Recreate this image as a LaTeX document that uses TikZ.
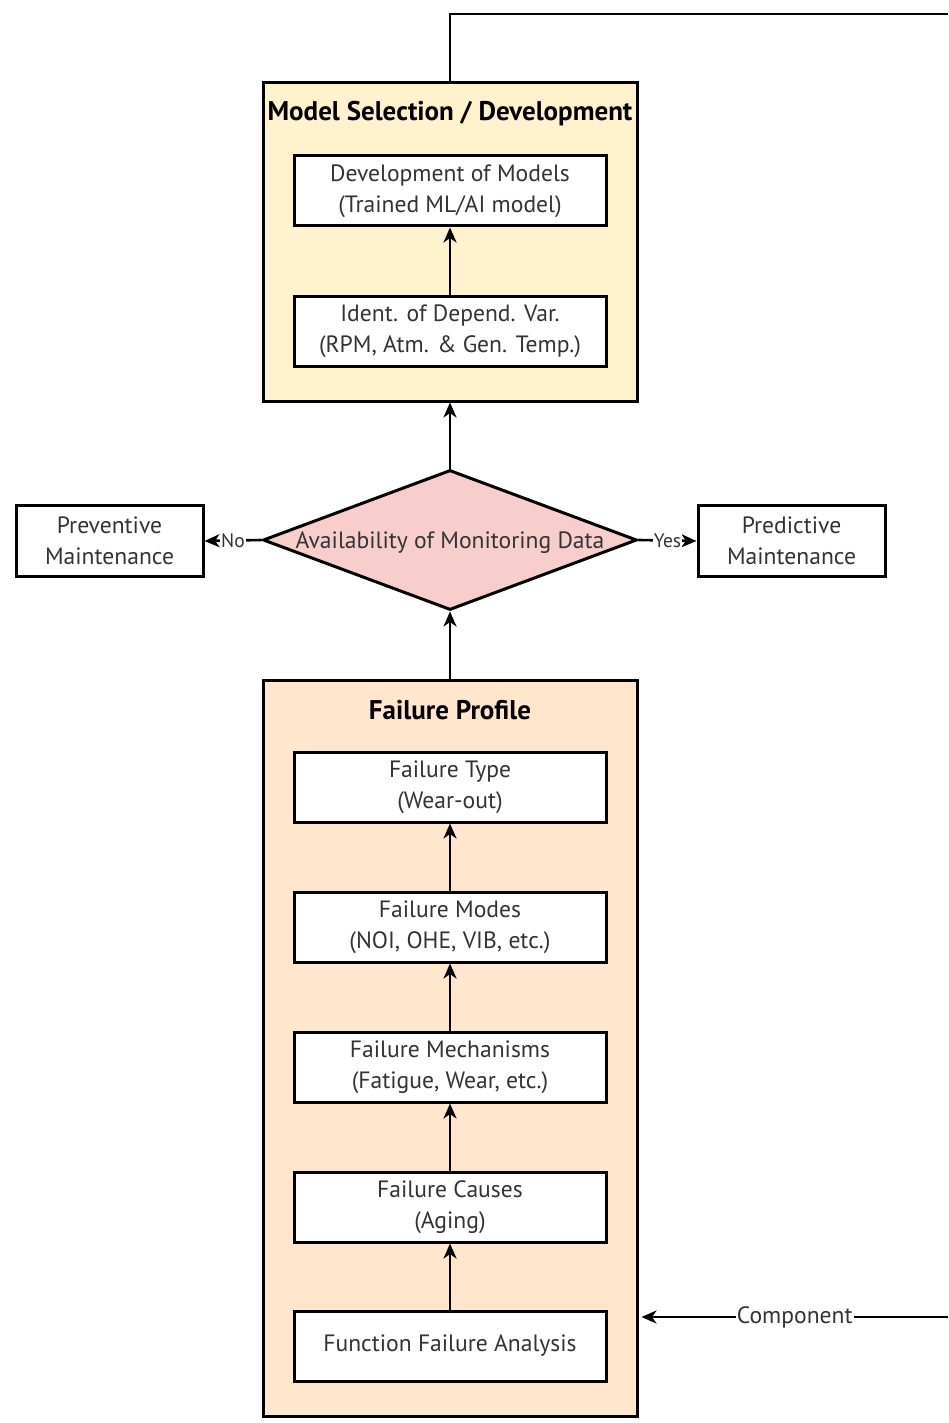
\documentclass[tikz,border=0pt]{standalone}
\usepackage{fontspec}
\setmainfont{PT Sans}
\usetikzlibrary{arrows.meta,shapes.geometric}
\definecolor{modelfill}{HTML}{FFF2CC}
\definecolor{profilefill}{HTML}{FFE6CC}
\definecolor{decisionfill}{HTML}{F8CECC}
\definecolor{txt}{HTML}{333333}
\begin{document}
\begin{tikzpicture}[x=1pt,y=-1pt,
  every node/.style={font=\fontsize{23.6}{31}\selectfont, text=txt},
  group/.style={draw=black, line width=3pt, inner sep=0pt},
  stepbox/.style={draw=black, line width=3pt, fill=white, minimum width=312pt, minimum height=70pt, align=center, inner sep=0pt},
  endbox/.style={draw=black, line width=3pt, fill=white, minimum width=187pt, minimum height=71pt, align=center, inner sep=0pt},
  title/.style={font=\bfseries\fontsize{27}{30}\selectfont, text=black},
  lbl/.style={font=\fontsize{19.5}{22}\selectfont, fill=white, inner sep=1pt, text=txt},
  conn/.style={line width=2.6pt, -{Stealth[length=15pt,width=13pt,inset=4.5pt]}},
  plain/.style={line width=2.6pt}]
\useasboundingbox (0,0) rectangle (948,1423);
\fill[white] (0,0) rectangle (948,1423);

% model selection group
\node[group, fill=modelfill, minimum width=374pt, minimum height=318pt] (ms) at (450,242) {};
\node[title] (mstitle) at (450,114) {Model Selection / Development};
\node[stepbox] (dev) at (450,191) {Development of Models\\(Trained ML/AI model)};
\node[stepbox] (ident) at (450,331) {Ident. of Depend. Var.\\(RPM, Atm. \& Gen. Temp.)};

% decision
\node[shape=diamond, draw=black, line width=3pt, fill=decisionfill, aspect=2.67,
      minimum width=374pt, minimum height=140pt, inner sep=0pt] (avail) at (450,540) {};
\node (availtext) at (450,543) {Availability of Monitoring Data};
\node[endbox] (prev) at (109.5,541) {Preventive\\Maintenance};
\node[endbox] (pred) at (791.5,541) {Predictive\\Maintenance};

% failure profile group
\node[group, fill=profilefill, minimum width=374pt, minimum height=736pt] (fp) at (450,1048) {};
\node[title] (fptitle) at (450,710) {Failure Profile};
\node[stepbox] (ftype) at (450,787) {Failure Type\\(Wear-out)};
\node[stepbox] (fmodes) at (450,927) {Failure Modes\\(NOI, OHE, VIB, etc.)};
\node[stepbox] (fmech) at (450,1067) {Failure Mechanisms\\(Fatigue, Wear, etc.)};
\node[stepbox] (fcause) at (450,1207) {Failure Causes\\(Aging)};
\node[stepbox] (ffa) at (450,1346) {Function Failure Analysis};

% free ends of the lines leaving the picture
\coordinate (topend) at (948,14);
\coordinate (compsrc) at (948,1317);

% connectors
\draw[conn] (ident) -- (dev);
\draw[conn] (avail.north) -- (ms.south);
\draw[conn] (fp.north) -- (avail.south);
\draw[conn] (ffa) -- (fcause);
\draw[conn] (fcause) -- (fmech);
\draw[conn] (fmech) -- (fmodes);
\draw[conn] (fmodes) -- (ftype);
\draw[conn] (avail.west) -- node[lbl] {No} (prev.east);
\draw[conn] (avail.east) -- node[lbl] {Yes} (pred.west);
\draw[conn] (compsrc) -- node[lbl, font=\fontsize{23.6}{26}\selectfont] {Component} ([xshift=3pt]fp.east |- compsrc);
\draw[plain] (ms.north) |- (topend);
\end{tikzpicture}
\end{document}
